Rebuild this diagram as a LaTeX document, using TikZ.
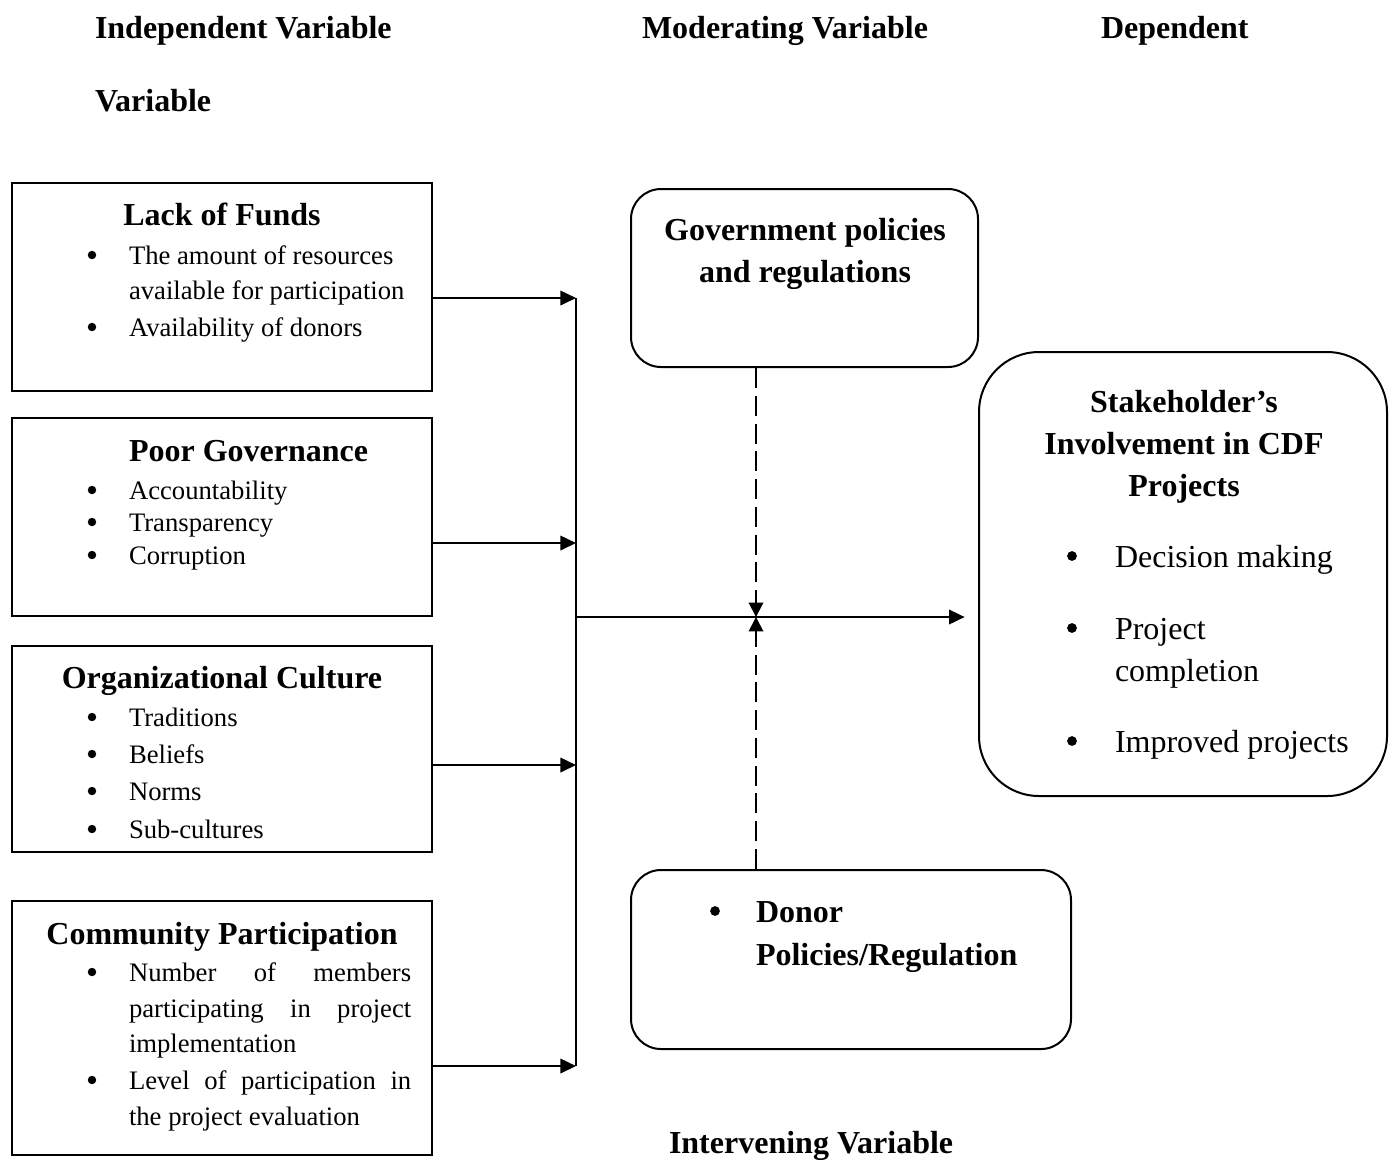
\documentclass[tikz,border=0pt]{standalone}
\usepackage{fontspec}
\setmainfont{Liberation Serif}
\usepackage{tikz}
\usetikzlibrary{arrows.meta,fit}

\begin{document}
\begin{tikzpicture}[x=0.45pt,y=-0.45pt,line width=0.9pt,
  varbox/.style={draw,inner sep=0pt},
  roundbox/.style={draw,inner sep=0pt,rounded corners=13.5pt},
  head/.style={anchor=base west,inner sep=0pt,font=\fontsize{14.4}{17}\selectfont\bfseries},
  title/.style={anchor=base,inner sep=0pt,font=\fontsize{14.4}{17}\selectfont\bfseries},
  txt/.style={anchor=base west,inner sep=0pt,font=\fontsize{12}{14}\selectfont},
  bigtxt/.style={anchor=base west,inner sep=0pt,font=\fontsize{14.4}{17}\selectfont},
  dot/.style={circle,fill,inner sep=0pt,minimum size=3.8pt},
  bigdot/.style={circle,fill,inner sep=0pt,minimum size=4.4pt},
  feed/.style={-{Triangle[length=7pt,width=6.5pt]}},
  modline/.style={dash pattern=on 9pt off 3.5pt,-{Triangle[length=6.5pt,width=6.5pt]}}]
\useasboundingbox (0,0) rectangle (1389,1160);

% headings
\node[head] (indep) at (94,38) {Independent Variable};
\node[head] (indep2) at (94,111) {Variable};
\node[head] (moder) at (641,38) {Moderating Variable};
\node[head] (dep) at (1100,38) {Dependent};
\node[head] (interv) at (668,1153) {Intervening Variable};

% independent variables
\node[varbox,fit={(12,183) (432,391)}] (funds) {};
\node[title] (fundst) at (222,225) {Lack of Funds};
\node[dot] (fundsd1) at (92,255) {};
\node[txt] (fundsa) at (128,264) {The amount of resources};
\node[txt] (fundsb) at (128,299) {available for participation};
\node[dot] (fundsd2) at (92,327) {};
\node[txt] (fundsc) at (128,336) {Availability of donors};

\node[varbox,fit={(12,418) (432,616)}] (gov) {};
\node[head] (govt) at (128,461) {Poor Governance};
\node[dot] (govd1) at (92,490) {};
\node[txt] (gova) at (128,499) {Accountability};
\node[dot] (govd2) at (92,522) {};
\node[txt] (govb) at (128,531) {Transparency};
\node[dot] (govd3) at (92,555) {};
\node[txt] (govc) at (128,564) {Corruption};

\node[varbox,fit={(12,646) (432,852)}] (cult) {};
\node[title] (cultt) at (222,688) {Organizational Culture};
\node[dot] (cultd1) at (92,717) {};
\node[txt] (culta) at (128,726) {Traditions};
\node[dot] (cultd2) at (92,754) {};
\node[txt] (cultb) at (128,763) {Beliefs};
\node[dot] (cultd3) at (92,791) {};
\node[txt] (cultc) at (128,800) {Norms};
\node[dot] (cultd4) at (92,829) {};
\node[txt] (cultd) at (128,838) {Sub-cultures};

\node[varbox,fit={(12,901) (432,1155)}] (comm) {};
\node[title] (commt) at (222,944) {Community Participation};
\node[dot] (commd1) at (92,972) {};
\node[txt] (comma) at (128,981) {\makebox[127pt][s]{Number of members}};
\node[txt] (commb) at (128,1017) {\makebox[127pt][s]{participating in project}};
\node[txt] (commc) at (128,1052) {implementation};
\node[dot] (commd2) at (92,1080) {};
\node[txt] (commd) at (128,1089) {\makebox[127pt][s]{Level of participation in}};
\node[txt] (comme) at (128,1125) {the project evaluation};

% moderating and intervening
\node[roundbox,fit={(631,189) (978,367)}] (policy) {};
\node[title] (policyt1) at (805,240) {Government policies};
\node[title] (policyt2) at (805,282) {and regulations};

\node[roundbox,fit={(631,870) (1071,1049)}] (donor) {};
\node[bigdot] (donord) at (715,911) {};
\node[head] (donora) at (755,922) {Donor};
\node[head] (donorb) at (755,965) {Policies/Regulation};

% dependent variable
\node[roundbox,rounded corners=27pt,fit={(979,352) (1387,796)}] (stake) {};
\node[title] (staket1) at (1184,412) {Stakeholder's};
\node[title] (staket2) at (1184,454) {Involvement in CDF};
\node[title] (staket3) at (1184,496) {Projects};
\node[bigdot] (staked1) at (1072,556) {};
\node[bigtxt] (stakea) at (1114,567) {Decision making};
\node[bigdot] (staked2) at (1072,628) {};
\node[bigtxt] (stakeb) at (1114,639) {Project};
\node[bigtxt] (stakec) at (1114,681) {completion};
\node[bigdot] (staked3) at (1072,741) {};
\node[bigtxt] (staked) at (1114,752) {Improved projects};

% connectors
\coordinate (bustop) at (576,298);
\coordinate (bus2) at (576,543);
\coordinate (bus3) at (576,765);
\coordinate (busbot) at (576,1066);
\coordinate (busmid) at (576,617);
\coordinate (cross) at (756,617);
\draw (bustop) -- (busbot);
\draw[feed] (funds.east |- bustop) -- (bustop);
\draw[feed] (gov.east |- bus2) -- (bus2);
\draw[feed] (cult.east |- bus3) -- (bus3);
\draw[feed] (comm.east |- busbot) -- (busbot);
\draw[feed] (busmid) -- ([xshift=-6pt]stake.west |- busmid);
\draw[modline] (policy.south -| cross) -- (cross);
\draw[modline] (donor.north -| cross) -- (cross);
\end{tikzpicture}
\end{document}
